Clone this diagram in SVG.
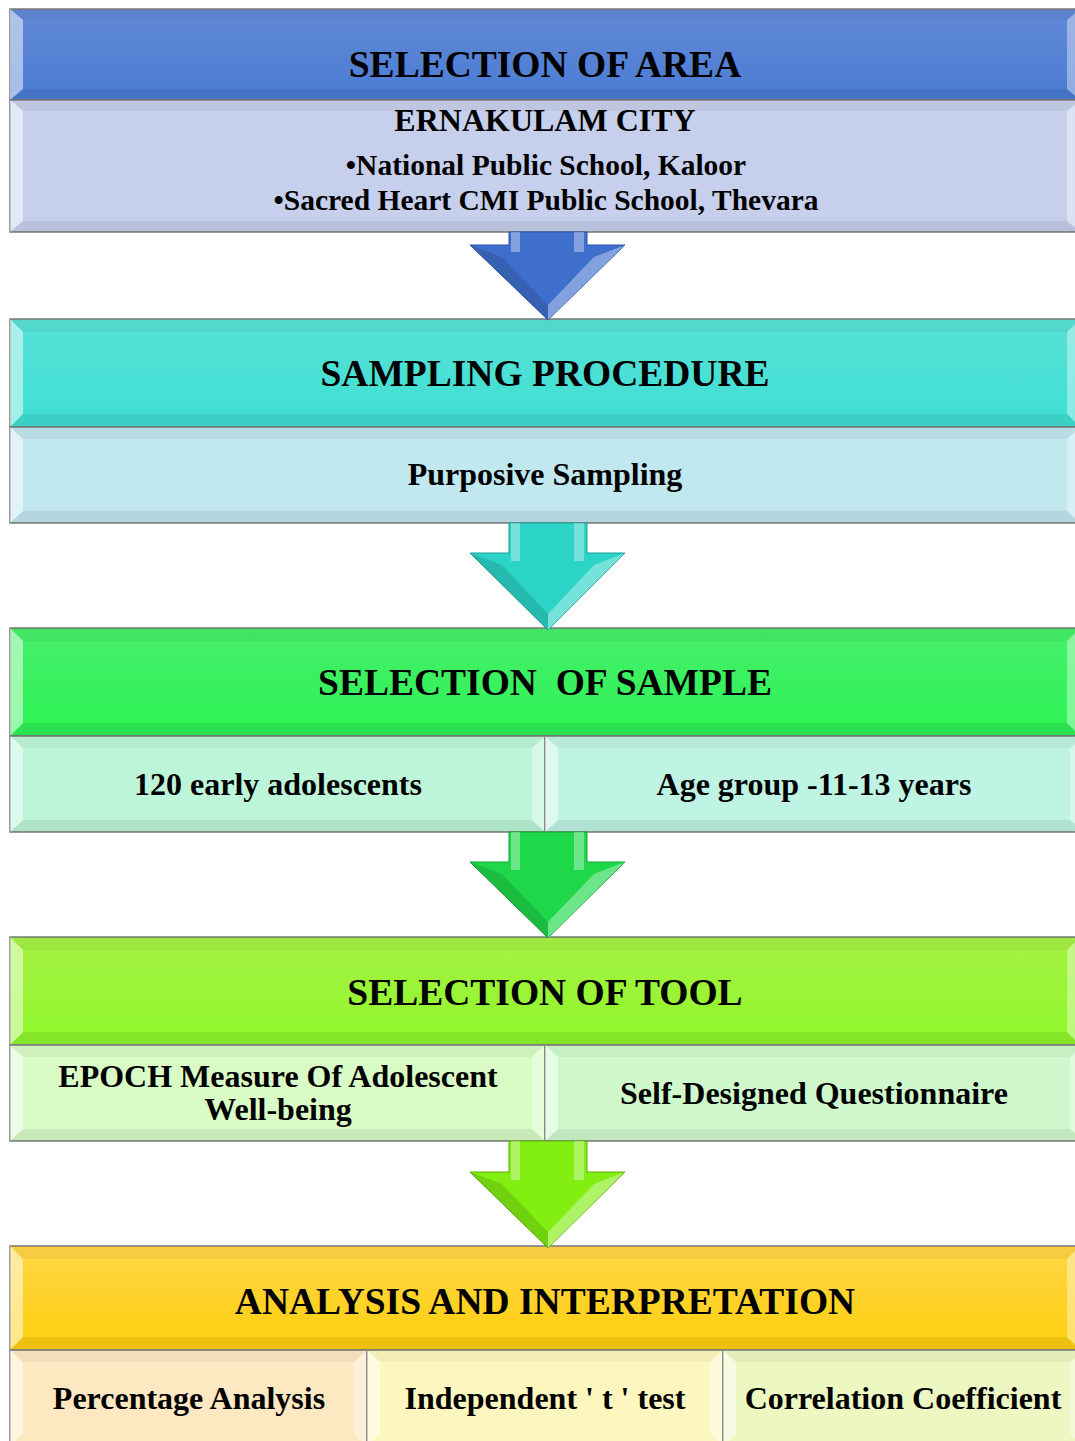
<svg xmlns="http://www.w3.org/2000/svg" width="1075" height="1441" viewBox="0 0 1075 1441">
<defs>
<linearGradient id="gH1" x1="0" y1="0" x2="0" y2="1"><stop offset="0" stop-color="#6389d6"/><stop offset="1" stop-color="#4a7cd4"/></linearGradient>
<linearGradient id="gH2" x1="0" y1="0" x2="0" y2="1"><stop offset="0" stop-color="#58e0d6"/><stop offset="1" stop-color="#3ee0d3"/></linearGradient>
<linearGradient id="gH3" x1="0" y1="0" x2="0" y2="1"><stop offset="0" stop-color="#46ee6a"/><stop offset="1" stop-color="#2ef455"/></linearGradient>
<linearGradient id="gH4" x1="0" y1="0" x2="0" y2="1"><stop offset="0" stop-color="#a6f044"/><stop offset="1" stop-color="#8ef82a"/></linearGradient>
<linearGradient id="gH5" x1="0" y1="0" x2="0" y2="1"><stop offset="0" stop-color="#ffd648"/><stop offset="1" stop-color="#ffcf0c"/></linearGradient>
</defs>
<style>
.box{stroke:#7a7a7a;stroke-width:1.5}
.bt{fill:#000;fill-opacity:0.04}
.bb{fill:#000;fill-opacity:0.07}
.bl{fill:#fff;fill-opacity:0.5}
.br{fill:#fff;fill-opacity:0.38}
.hd{font-family:"Liberation Serif","Times New Roman",serif;font-weight:bold;font-size:37.5px;fill:#000;text-anchor:middle}
.sb{font-family:"Liberation Serif","Times New Roman",serif;font-weight:bold;font-size:32px;fill:#000;text-anchor:middle}
.sm{font-size:29.5px}
.hl{fill:#fff;fill-opacity:0.35}
.sh{fill:#000;fill-opacity:0.12}
</style>

<g id="node-area-header">
<rect class="box" x="10" y="9" width="1070" height="91" fill="url(#gH1)"/>
<path class="bt" d="M10 9H1080L1067 20H23Z"/><path class="bb" d="M10 100H1080L1067 89H23Z"/>
<path class="bl" d="M10 9V100L23 89V20Z"/><path class="br" d="M1080 9V100L1067 89V20Z"/>
<text class="hd" x="545" y="77">SELECTION OF AREA</text>
</g>
<g id="node-area-detail">
<rect class="box" x="10" y="100" width="1070" height="132" fill="#c6d0ec"/>
<path class="bt" d="M10 100H1080L1067 111H23Z"/><path class="bb" d="M10 232H1080L1067 221H23Z"/>
<path class="bl" d="M10 100V232L23 221V111Z"/><path class="br" d="M1080 100V232L1067 221V111Z"/>
<text class="sb" x="545" y="131">ERNAKULAM CITY</text>
<text class="sb sm" x="546" y="175">•National Public School, Kaloor</text>
<text class="sb sm" x="546" y="210">•Sacred Heart CMI Public School, Thevara</text>
</g>

<g id="node-sampling-header">
<rect class="box" x="10" y="319" width="1070" height="108" fill="url(#gH2)"/>
<path class="bt" d="M10 319H1080L1067 332H23Z"/><path class="bb" d="M10 427H1080L1067 414H23Z"/>
<path class="bl" d="M10 319V427L23 414V332Z"/><path class="br" d="M1080 319V427L1067 414V332Z"/>
<text class="hd" x="545" y="386">SAMPLING PROCEDURE</text>
</g>
<g id="node-sampling-detail">
<rect class="box" x="10" y="427" width="1070" height="96" fill="#c1e7ef"/>
<path class="bt" d="M10 427H1080L1067 439H23Z"/><path class="bb" d="M10 523H1080L1067 511H23Z"/>
<path class="bl" d="M10 427V523L23 511V439Z"/><path class="br" d="M1080 427V523L1067 511V439Z"/>
<text class="sb" x="545" y="485">Purposive Sampling</text>
</g>

<g id="node-sample-header">
<rect class="box" x="10" y="628" width="1070" height="108" fill="url(#gH3)"/>
<path class="bt" d="M10 628H1080L1067 641H23Z"/><path class="bb" d="M10 736H1080L1067 723H23Z"/>
<path class="bl" d="M10 628V736L23 723V641Z"/><path class="br" d="M1080 628V736L1067 723V641Z"/>
<text class="hd" x="545" y="695" xml:space="preserve">SELECTION  OF SAMPLE</text>
</g>
<g id="node-sample-count">
<rect class="box" x="10" y="736" width="535" height="96" fill="#bdf5d8"/>
<path class="bt" d="M10 736H545L532 748H23Z"/><path class="bb" d="M10 832H545L532 820H23Z"/>
<path class="bl" d="M10 736V832L23 820V748Z"/><path class="br" d="M545 736V832L532 820V748Z"/>
<text class="sb" x="278" y="795">120 early adolescents</text>
</g>
<g id="node-sample-age">
<rect class="box" x="545" y="736" width="538" height="96" fill="#bff3e4"/>
<path class="bt" d="M545 736H1083L1070 748H558Z"/><path class="bb" d="M545 832H1083L1070 820H558Z"/>
<path class="bl" d="M545 736V832L558 820V748Z"/><path class="br" d="M1083 736V832L1070 820V748Z"/>
<text class="sb" x="814" y="795">Age group -11-13 years</text>
</g>

<g id="node-tool-header">
<rect class="box" x="10" y="937" width="1070" height="108" fill="url(#gH4)"/>
<path class="bt" d="M10 937H1080L1067 950H23Z"/><path class="bb" d="M10 1045H1080L1067 1032H23Z"/>
<path class="bl" d="M10 937V1045L23 1032V950Z"/><path class="br" d="M1080 937V1045L1067 1032V950Z"/>
<text class="hd" x="545" y="1005">SELECTION OF TOOL</text>
</g>
<g id="node-tool-epoch">
<rect class="box" x="10" y="1045" width="535" height="96" fill="#d9fbc6"/>
<path class="bt" d="M10 1045H545L532 1057H23Z"/><path class="bb" d="M10 1141H545L532 1129H23Z"/>
<path class="bl" d="M10 1045V1141L23 1129V1057Z"/><path class="br" d="M545 1045V1141L532 1129V1057Z"/>
<text class="sb" x="278" y="1087">EPOCH Measure Of Adolescent</text>
<text class="sb" x="278" y="1120">Well-being</text>
</g>
<g id="node-tool-questionnaire">
<rect class="box" x="545" y="1045" width="538" height="96" fill="#cff9cc"/>
<path class="bt" d="M545 1045H1083L1070 1057H558Z"/><path class="bb" d="M545 1141H1083L1070 1129H558Z"/>
<path class="bl" d="M545 1045V1141L558 1129V1057Z"/><path class="br" d="M1083 1045V1141L1070 1129V1057Z"/>
<text class="sb" x="814" y="1104">Self-Designed Questionnaire</text>
</g>

<g id="node-analysis-header">
<rect class="box" x="10" y="1246" width="1070" height="104" fill="url(#gH5)"/>
<path class="bt" d="M10 1246H1080L1067 1259H23Z"/><path class="bb" d="M10 1350H1080L1067 1337H23Z"/>
<path class="bl" d="M10 1246V1350L23 1337V1259Z"/><path class="br" d="M1080 1246V1350L1067 1337V1259Z"/>
<text class="hd" x="545" y="1314">ANALYSIS AND INTERPRETATION</text>
</g>
<g id="node-analysis-percentage">
<rect class="box" x="10" y="1350" width="357" height="96" fill="#fde8c2"/>
<path class="bt" d="M10 1350H367L354 1362H23Z"/>
<path class="bl" d="M10 1350V1446L23 1434V1362Z"/><path class="br" d="M367 1350V1446L354 1434V1362Z"/>
<text class="sb" x="189" y="1409">Percentage Analysis</text>
</g>
<g id="node-analysis-ttest">
<rect class="box" x="367" y="1350" width="356" height="96" fill="#fdf6bf"/>
<path class="bt" d="M367 1350H723L710 1362H380Z"/>
<path class="bl" d="M367 1350V1446L380 1434V1362Z"/><path class="br" d="M723 1350V1446L710 1434V1362Z"/>
<text class="sb" x="545" y="1409">Independent ' t ' test</text>
</g>
<g id="node-analysis-correlation">
<rect class="box" x="723" y="1350" width="360" height="96" fill="#ecf7c2"/>
<path class="bt" d="M723 1350H1083L1070 1362H736Z"/>
<path class="bl" d="M723 1350V1446L736 1434V1362Z"/><path class="br" d="M1083 1350V1446L1070 1434V1362Z"/>
<text class="sb" x="903" y="1409">Correlation Coefficient</text>
</g>

<g id="connectors">
<g id="arrow-1">
<polygon points="509,232 587,232 587,245 625,245 548,320 470,245 509,245" fill="#3f6fcc" stroke="#2b55a6" stroke-width="1"/>
<rect class="hl" x="511" y="232" width="9" height="20"/><rect class="hl" x="574" y="232" width="10" height="20"/>
<polygon class="sh" points="470,245 502,257 548,305 548,320"/>
<polygon class="hl" points="625,245 594,257 548,305 548,320"/>
</g>
<g id="arrow-2">
<polygon points="509,523 587,523 587,553 625,553 548,630 470,553 509,553" fill="#2cd4c7" stroke="#1a9f95" stroke-width="1"/>
<rect class="hl" x="511" y="523" width="9" height="38"/><rect class="hl" x="574" y="523" width="10" height="38"/>
<polygon class="sh" points="470,553 502,565 548,614 548,630"/>
<polygon class="hl" points="625,553 594,565 548,614 548,630"/>
</g>
<g id="arrow-3">
<polygon points="509,832 587,832 587,862 625,862 548,938 470,862 509,862" fill="#1fd84a" stroke="#13a034" stroke-width="1"/>
<rect class="hl" x="511" y="832" width="9" height="38"/><rect class="hl" x="574" y="832" width="10" height="38"/>
<polygon class="sh" points="470,862 502,874 548,922 548,938"/>
<polygon class="hl" points="625,862 594,874 548,922 548,938"/>
</g>
<g id="arrow-4">
<polygon points="509,1141 587,1141 587,1172 625,1172 548,1248 470,1172 509,1172" fill="#82ee12" stroke="#5aab08" stroke-width="1"/>
<rect class="hl" x="511" y="1141" width="9" height="39"/><rect class="hl" x="574" y="1141" width="10" height="39"/>
<polygon class="sh" points="470,1172 502,1184 548,1232 548,1248"/>
<polygon class="hl" points="625,1172 594,1184 548,1232 548,1248"/>
</g>
</g>
</svg>
